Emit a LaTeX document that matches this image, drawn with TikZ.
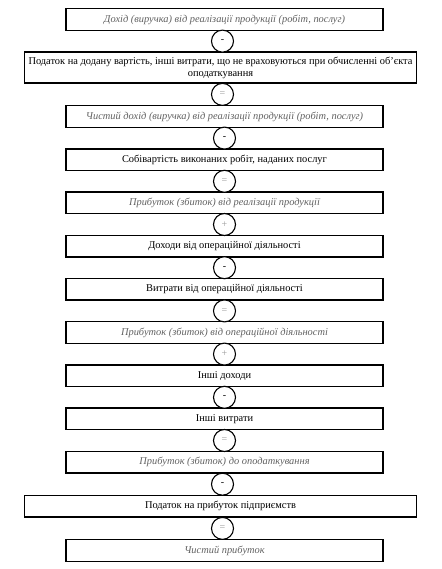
\documentclass[tikz,border=0pt]{standalone}
\usepackage{fontspec}
\setmainfont{Liberation Serif}
\usetikzlibrary{calc}
\begin{document}
\begin{tikzpicture}[x=1pt,y=-1pt,
  box/.style={draw=black,line width=1.4pt,minimum height=21.5pt,inner sep=1pt,align=center,font=\fontsize{10.4}{12}\selectfont},
  nbox/.style={box,minimum width=317pt},
  wbox/.style={box,minimum width=392pt},
  res/.style={text=black!62,font=\fontsize{10.4}{12}\selectfont\itshape},
  op/.style={draw=black,line width=1.1pt,circle,minimum size=22pt,inner sep=0pt,font=\fontsize{10}{12}\selectfont,fill=white},
  opeq/.style={op,text=black!40}]
\useasboundingbox (0,0) rectangle (441,569);
\node[nbox,res] (b1) at (224.5,19.5) {Дохід (виручка) від реалізації продукції (робіт, послуг)};
\node[wbox,minimum height=31pt] (b2) at (220.5,67.5) {Податок на додану вартість, інші витрати, що не враховуються при обчисленні об'єкта\\оподаткування};
\node[nbox,res] (b3) at (224.5,116.5) {Чистий дохід (виручка) від реалізації продукції (робіт, послуг)};
\node[nbox] (b4) at (224.5,159.7) {Собівартість виконаних робіт, наданих послуг};
\node[nbox,res] (b5) at (224.5,202.9) {Прибуток (збиток) від реалізації продукції};
\node[nbox] (b6) at (224.5,246.1) {Доходи від операційної діяльності};
\node[nbox] (b7) at (224.5,289.3) {Витрати від операційної діяльності};
\node[nbox,res] (b8) at (224.5,332.5) {Прибуток (збиток) від операційної діяльності};
\node[nbox] (b9) at (224.5,375.7) {Інші доходи};
\node[nbox] (b10) at (224.5,418.9) {Інші витрати};
\node[nbox,res] (b11) at (224.5,462.1) {Прибуток (збиток) до оподаткування};
\node[wbox] (b12) at (220.5,506.3) {Податок на прибуток підприємств};
\node[nbox,res] (b13) at (224.5,550.5) {Чистий прибуток};
\node[op] (o1) at ($(b1.south)!0.5!(b2.north)$) {-};
\node[opeq] (o2) at ($(b2.south)!0.5!(b3.north)$) {=};
\node[op] (o3) at ($(b3.south)!0.5!(b4.north)$) {-};
\node[opeq] (o4) at ($(b4.south)!0.5!(b5.north)$) {=};
\node[opeq] (o5) at ($(b5.south)!0.5!(b6.north)$) {+};
\node[op] (o6) at ($(b6.south)!0.5!(b7.north)$) {-};
\node[opeq] (o7) at ($(b7.south)!0.5!(b8.north)$) {=};
\node[opeq] (o8) at ($(b8.south)!0.5!(b9.north)$) {+};
\node[op] (o9) at ($(b9.south)!0.5!(b10.north)$) {-};
\node[opeq] (o10) at ($(b10.south)!0.5!(b11.north)$) {=};
\node[op] (o11) at ($(b11.south)!0.5!(b12.north)$) {-};
\node[opeq] (o12) at ($(b12.south)!0.5!(b13.north)$) {=};
\end{tikzpicture}
\end{document}
